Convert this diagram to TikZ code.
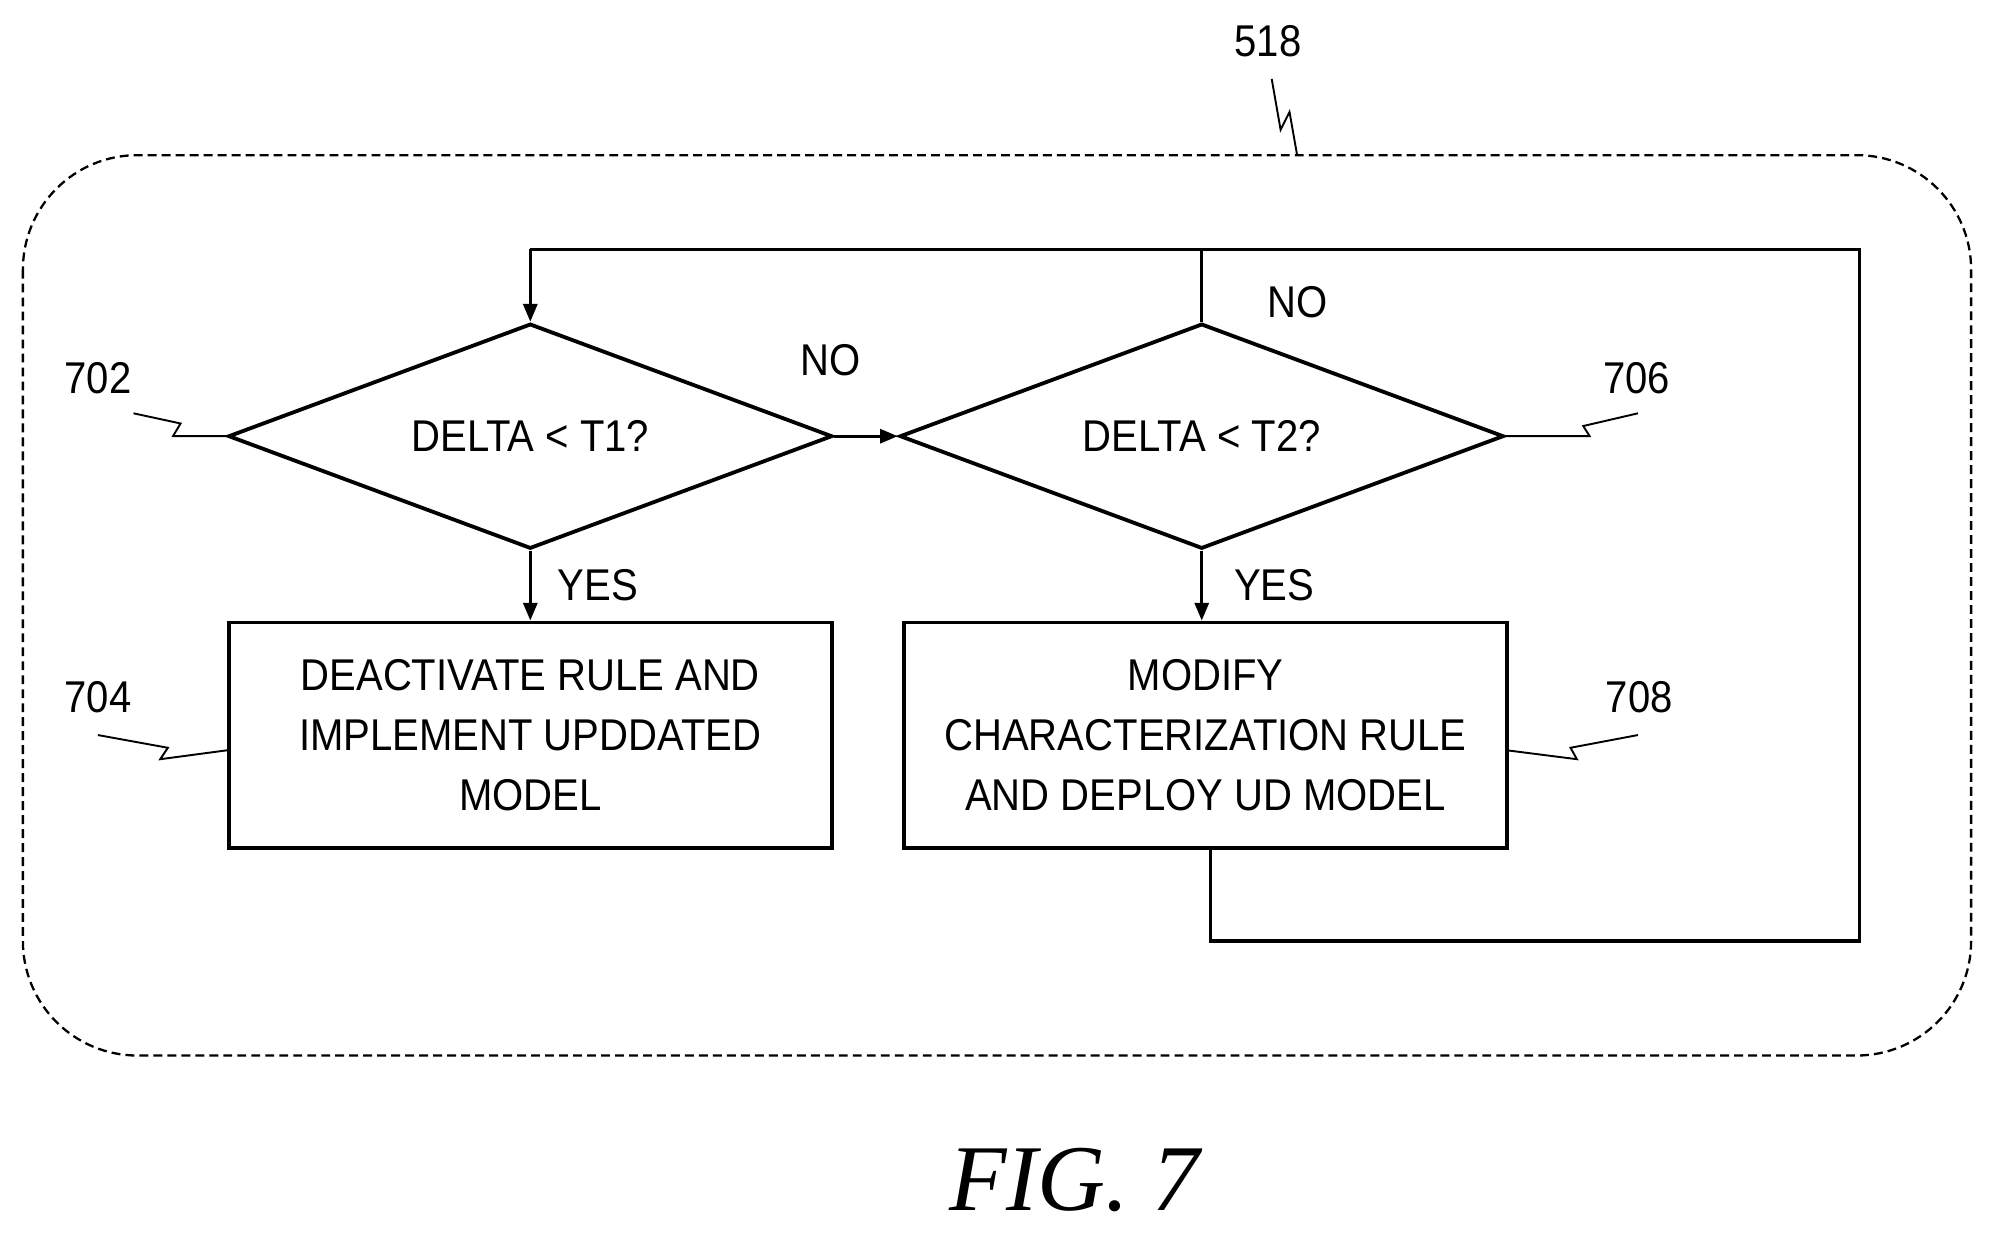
\documentclass[tikz,border=0pt]{standalone}
\usepackage{fontspec}
\setmainfont{Liberation Sans}[FakeStretch=0.9]
\usetikzlibrary{shapes.geometric,arrows.meta}
\begin{document}
\begin{tikzpicture}[x=1pt,y=-1pt,
  every node/.style={font=\fontsize{35}{47}\selectfont},
  dia/.style={diamond,draw,line width=3pt,minimum width=475pt,minimum height=177pt,aspect=2.68,inner sep=0pt},
  box/.style={draw,line width=3pt,minimum width=474pt,minimum height=177pt,align=center,inner sep=0pt},
  ln/.style={line width=2.5pt},
  arr/.style={ln,-{Triangle[length=14pt,width=11pt]}},
  sq/.style={line width=1.5pt}]
\useasboundingbox (0,0) rectangle (1568,970);
\draw[line width=1.8pt,dash pattern=on 7pt off 4pt,rounded corners=90pt] (18,122) rectangle (1550,830);
\node (l518) at (997,32) {518};
\coordinate (t518) at (1020,122);
\draw[sq] (1000,62) -- (1007,102) -- (1014,88) -- (t518);
\node[dia] (d1) at (417,343) {DELTA < T1?};
\node[dia] (d2) at (945,343) {DELTA < T2?};
\node[box] (b1) at (417,578) {DEACTIVATE RULE AND\\IMPLEMENT UPDDATED\\MODEL};
\node[box] (b2) at (948,578) {MODIFY\\CHARACTERIZATION RULE\\AND DEPLOY UD MODEL};
\draw[arr] (d1.east) -- (d2.west);
\node at (653,283) {NO};
\draw[arr] (d1.south) -- (b1.north);
\node at (470,460) {YES};
\draw[arr] (d2.south) -- (d2.south |- b2.north);
\node at (1002,460) {YES};
\coordinate (c1) at (417,196);
\coordinate (c2) at (1462,196);
\coordinate (c3) at (1462,740);
\coordinate (c4) at (952,740);
\draw[ln] (d2.north) -- (945,196);
\draw[ln] (b2.south -| c4) -- (c4) -- (c3) -- (c2) -- (c1);
\draw[arr] (c1) -- (d1.north);
\node at (1020,238) {NO};
\node (l702) at (77,297) {702};
\node (l704) at (77,548) {704};
\node (l706) at (1287,297) {706};
\node (l708) at (1289,548) {708};
\draw[sq] (105,325) -- (142,333) -- (136,343) -- (d1.west);
\draw[sq] (77,578) -- (132,588) -- (126,597) -- (b1.west |- 0,590);
\draw[sq] (1288,325) -- (1245,335) -- (1250,343) -- (d2.east);
\draw[sq] (1288,578) -- (1235,588) -- (1240,597) -- (1185,590);
\node (fig) at (845,928) {\fontsize{74}{80}\selectfont\fontspec{Liberation Serif}\itshape FIG.\ 7};
\end{tikzpicture}
\end{document}
